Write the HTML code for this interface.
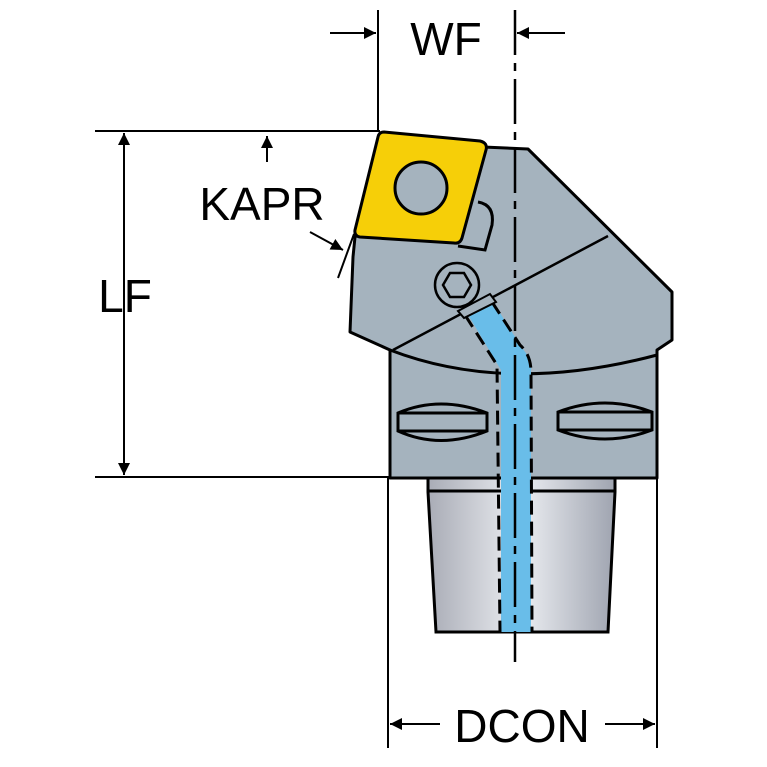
<!DOCTYPE html>
<html><head><style>body{margin:0;background:#fff}svg{display:block}</style></head><body>
<svg width="767" height="767" viewBox="0 0 767 767" xmlns="http://www.w3.org/2000/svg">
<defs>
<linearGradient id="sh" x1="0" x2="1"><stop offset="0" stop-color="#a9acb6"/><stop offset="0.5" stop-color="#eceef2"/><stop offset="1" stop-color="#9fa4b0"/></linearGradient>
<marker id="ar" viewBox="0 0 10 10" refX="10" refY="5" markerWidth="20" markerHeight="12" orient="auto-start-reverse" markerUnits="userSpaceOnUse"><path d="M0,0 L10,5 L0,10 z" fill="#000"/></marker>
</defs>
<g stroke="#000" stroke-width="2" fill="none">
<line x1="378" y1="10" x2="378" y2="132"/>
<line x1="95" y1="131" x2="380" y2="131"/>
<line x1="95" y1="477" x2="390" y2="477"/>
<line x1="388" y1="478" x2="388" y2="748"/>
<line x1="657" y1="478" x2="657" y2="748"/>
</g>
<path d="M428,478 H615 V492 L608,632 H436 L428,492 Z" fill="url(#sh)" stroke="#000" stroke-width="3"/>
<line x1="428" y1="491" x2="615" y2="491" stroke="#000" stroke-width="3"/>
<path d="M390,478 V350 L350,332 L353,257 L355,237 L483,147 L528,149 L672,292 V340 L657,350 V478 Z" fill="#a5b3be" stroke="#000" stroke-width="3" stroke-linejoin="round"/>
<path d="M390,350 Q507,395 657,355" fill="none" stroke="#000" stroke-width="3"/>
<line x1="393" y1="350" x2="608" y2="236" stroke="#000" stroke-width="2.5"/>
<path d="M478,202 Q495,205 492,225 L485,250 L458,246" fill="#a5b3be" stroke="#000" stroke-width="3"/>
<path d="M467,313 L492,300 L520,345 L531,360 V632 H501 V370 Z" fill="#69bde9"/>
<g stroke="#000" stroke-width="3" stroke-dasharray="14,7" fill="none">
<path d="M465,315 L497,365 L500,632"/>
<path d="M492,302 L520,345 Q531,355 531,372 L532,632"/>
</g>
<circle cx="457" cy="285" r="22" fill="#a5b3be" stroke="#000" stroke-width="2.5"/>
<polygon points="471,285 464,297 450,297 443,285 450,273 464,273" fill="#a5b3be" stroke="#000" stroke-width="2.5"/>
<path d="M458,311 L490,294 L496,302 L464,318 Z" fill="#a5b3be" stroke="#000" stroke-width="2"/>
<g fill="#a5b3be" stroke="#000" stroke-width="3">
<path d="M398,413 Q440,395 487,413 V431 Q440,450 398,431 Z"/>
<line x1="398" y1="413" x2="487" y2="413"/><line x1="398" y1="431" x2="487" y2="431"/>
<path d="M558,412 Q605,394 652,412 V430 Q605,448 558,430 Z"/>
<line x1="558" y1="412" x2="652" y2="412"/><line x1="558" y1="430" x2="652" y2="430"/>
</g>
<path d="M384,132 L480,141 Q488,143 486,150 L462,238 Q460,244 454,243 L360,237 Q354,236 355,230 L378,137 Q379,132 384,132 Z" fill="#f6cf08" stroke="#000" stroke-width="3"/>
<circle cx="421" cy="188" r="26" fill="#a5b3be" stroke="#000" stroke-width="3"/>
<line x1="515" y1="10" x2="515" y2="662" stroke="#000" stroke-width="2.5" stroke-dasharray="45,8,8,8"/>
<g stroke="#000" stroke-width="2" fill="none">
<line x1="330" y1="33" x2="376" y2="33" marker-end="url(#ar)"/>
<line x1="565" y1="33" x2="517" y2="33" marker-end="url(#ar)"/>
<line x1="124" y1="133" x2="124" y2="475" marker-start="url(#ar)" marker-end="url(#ar)"/>
<line x1="267" y1="162" x2="267" y2="136" marker-end="url(#ar)"/>
<line x1="310" y1="232" x2="343" y2="250" marker-end="url(#ar)"/>
<line x1="354" y1="234" x2="338" y2="278"/>
<line x1="390" y1="724" x2="440" y2="724" marker-start="url(#ar)"/>
<line x1="605" y1="724" x2="655" y2="724" marker-end="url(#ar)"/>
</g>
<g font-family="Liberation Sans, sans-serif" font-size="46" fill="#000" text-anchor="middle">
<text x="446" y="55">WF</text>
<text x="125" y="312">LF</text>
<text x="262" y="220">KAPR</text>
<text x="522" y="742">DCON</text>
</g>
</svg>
</body></html>
